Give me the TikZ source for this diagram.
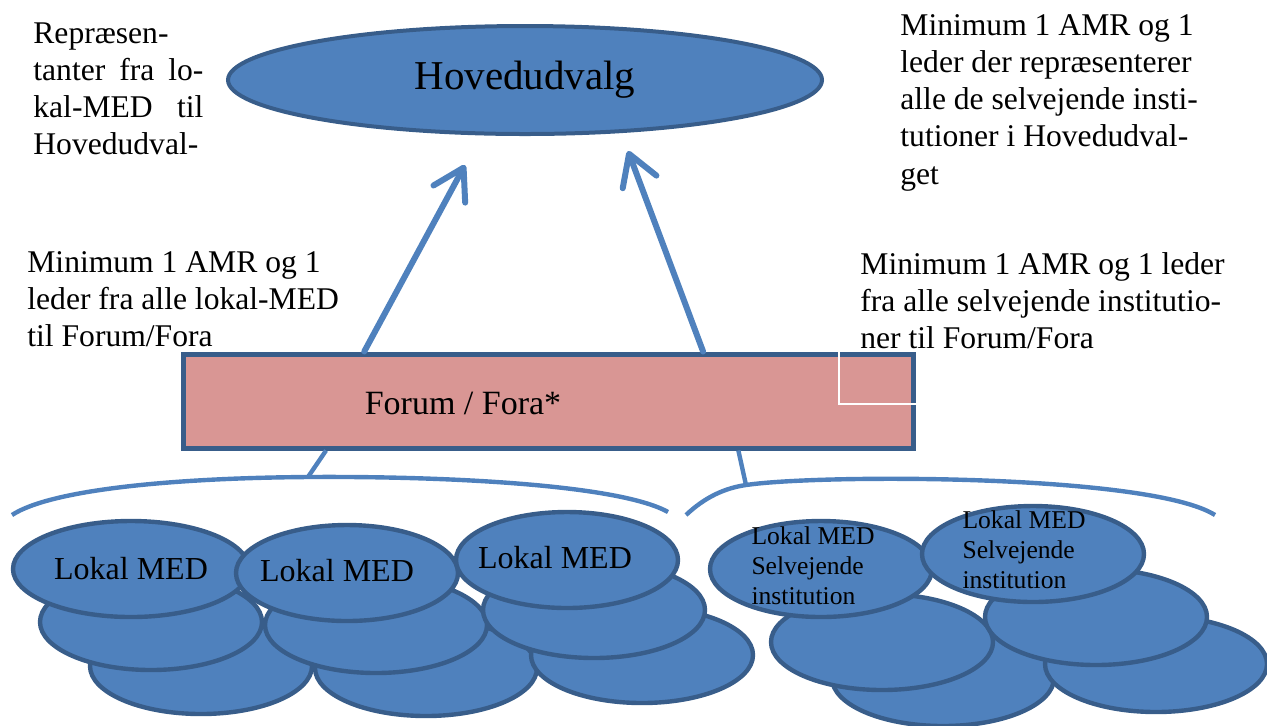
\documentclass[tikz,border=0pt]{standalone}
\usepackage{fontspec}
\setmainfont{Liberation Serif}
\usetikzlibrary{shapes.geometric,arrows.meta,calc,positioning}
\definecolor{medblue}{HTML}{4F81BD}
\definecolor{darkblue}{HTML}{385D8A}
\definecolor{forumred}{HTML}{D99694}
\tikzstyle{topoval} = [ellipse, minimum width=297pt, minimum height=54pt, draw=darkblue, line width=2pt, fill=medblue, font=\fontsize{20.5}{24}\selectfont]
\tikzstyle{forumbox} = [rectangle, minimum width=365pt, minimum height=47pt, draw=darkblue, line width=2.5pt, fill=forumred]
\tikzstyle{medoval} = [ellipse, minimum width=111pt, minimum height=48pt, draw=darkblue, line width=2.2pt, fill=medblue]
\tikzstyle{note} = [anchor=north west, inner sep=0pt, align=left, font=\fontsize{15.8}{18.6}\selectfont]
\tikzstyle{medtext} = [inner sep=0pt, font=\fontsize{16}{19}\selectfont]
\tikzstyle{selvtext} = [inner sep=0pt, align=left, font=\fontsize{12.8}{15}\selectfont]
\tikzstyle{arrow} = [line width=3pt, draw=medblue, line cap=round, -{Straight Barb[length=15pt,width=18pt,round]}]
\tikzstyle{brace} = [line width=2.2pt, draw=medblue]

\begin{document}
\begin{tikzpicture}[x=0.5pt, y=-0.5pt]
\useasboundingbox (0,0) rectangle (1267,725);

\node (hoved) [topoval] at (525,80) {Hovedudvalg};
\node (forum) [forumbox] at (548,401) {};
\node (forumtxt) [font=\fontsize{17}{20}\selectfont] at (463,403) {Forum / Fora*};
\draw [white, line width=0.8pt] (839,351) |- (916,404);

% notes
\node (lefttop) [note, text width=85pt, align=justify] at (33,22) {Repræsen-\linebreak tanter fra lo-\linebreak kal-MED til\linebreak Hovedudval-};
\node (righttop) [note] at (900,14) {Minimum 1 AMR og 1\\leder der repræsenterer\\alle de selvejende insti-\\tutioner i Hovedudval-\\get};
\node (leftmid) [note] at (27,251) {Minimum 1 AMR og 1\\leder fra alle lokal-MED\\til Forum/Fora};
\node (rightmid) [note] at (860,252) {Minimum 1 AMR og 1 leder\\fra alle selvejende institutio-\\ner til Forum/Fora};

% arrows up to the Hovedudvalg
\coordinate (tipL) at (465,165);
\coordinate (tipR) at (628,151);
\draw [arrow] ($(forum.north west)!.25!(forum.north east)$) -- (tipL);
\draw [arrow] ($(forum.north west)!.711!(forum.north east)$) -- (tipR);

% braces under the Forum
\draw [brace] (12,515) .. controls (50,490) and (170,478) .. (308,477) coordinate (braceL) .. controls (450,476) and (620,485) .. (668,512);
\draw [brace] (686,515) .. controls (705,497) and (725,488) .. (746,485) coordinate (braceR) .. controls (820,474) and (1150,474) .. (1215,515);
\draw [brace] ($(forum.south west)!.198!(forum.south east)$) -- (braceL);
\draw [brace] ($(forum.south west)!.759!(forum.south east)$) -- (braceR);

% back row
\node (lmed1c) [medoval] at (201,666) {};
\node (lmed2c) [medoval] at (426,668) {};
\node (lmed3c) [medoval] at (642,655) {};
\node (smed1c) [medoval] at (943,678) {};
\node (smed2c) [medoval] at (1156,664) {};
% middle row
\node (lmed1b) [medoval] at (151,622) {};
\node (lmed2b) [medoval] at (376,625) {};
\node (lmed3b) [medoval] at (594,610) {};
\node (smed1b) [medoval] at (882,642) {};
\node (smed2b) [medoval] at (1096,617) {};
% front row
\node (lmed1) [medoval, minimum width=118pt] at (131,569) {};
\node (lmed2) [medoval] at (347,573) {};
\node (lmed3) [medoval] at (567,560) {};
\node (smed1) [medoval] at (821,569) {};
\node (smed2) [medoval] at (1033,554) {};

\node (lmed1txt) [medtext] at (lmed1) {Lokal MED};
\node (lmed2txt) [medtext] at (337,571) {Lokal MED};
\node (lmed3txt) [medtext] at (555,558) {Lokal MED};
\node (smed1txt) [selvtext] at (813,566) {Lokal MED\\Selvejende\\institution};
\node (smed2txt) [selvtext] at (1024,550) {Lokal MED\\Selvejende\\institution};

\end{tikzpicture}
\end{document}
